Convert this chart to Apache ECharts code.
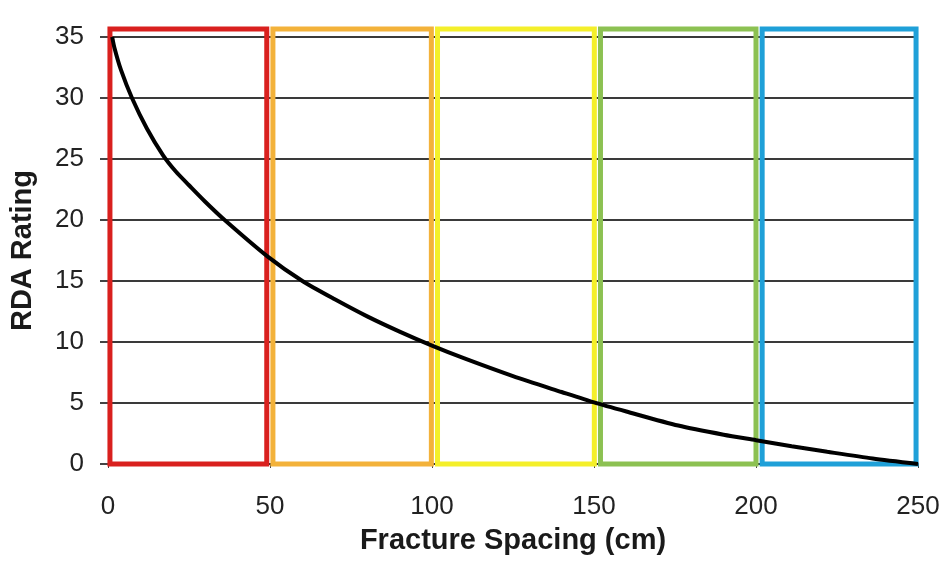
<!DOCTYPE html>
<html><head><meta charset="utf-8">
<script src="https://cdn.jsdelivr.net/npm/echarts@6/dist/echarts.min.js"></script>
<style>html,body{margin:0;padding:0;background:#fff}#c{width:947px;height:561px}</style>
</head><body><div id="c"></div>
<script>
// Curve: fracture spacing (cm) vs RDA rating
const spacing = [1.3,2,4,7.4,12,17,21,25,30,36,49.3,60,70,80,90,100,110,125,140,150,160,176,190,200,211,222,236,250];
const rating  = [35,34.1,32.3,30,27.5,25.3,23.95,22.85,21.5,20,17,15,13.5,12.1,10.85,9.7,8.65,7.2,5.9,5.05,4.3,3.15,2.4,1.95,1.45,1.0,0.45,0];
// Colored classification boxes
const boxStart = [0.6, 50.9, 101.7, 152, 201.9];
const boxEnd   = [49.0, 99.8, 150.1, 200, 249.4];
const boxTop   = [35.65, 35.65, 35.65, 35.65, 35.65];
const boxColors = ['#d9201e', '#f3b23a', '#f4ef2a', '#8cc152', '#1fa0d8'];
const yTicks = [0,5,10,15,20,25,30,35];
const xTicks = [0,50,100,150,200,250];

const chart = echarts.init(document.getElementById('c'));
const font = 'Liberation Sans, Arial, Helvetica, sans-serif';
chart.setOption({
  animation: false,
  grid: {left: 108, right: 29, top: 37, bottom: 97},
  xAxis: {
    type: 'value', min: 0, max: 250, interval: 50,
    name: 'Fracture Spacing (cm)', nameLocation: 'middle', nameGap: 62,
    nameTextStyle: {fontFamily: font, fontWeight: 'bold', fontSize: 29, color: '#1a1a1a'},
    axisLine: {show: true, lineStyle: {color: '#333', width: 2}},
    axisTick: {show: true, length: 4, lineStyle: {color: '#444'}},
    axisLabel: {fontFamily: font, fontSize: 26, color: '#222', margin: 30,
      formatter: v => xTicks.includes(v) ? String(v) : ''},
    splitLine: {show: false}
  },
  yAxis: {
    type: 'value', min: 0, max: 35, interval: 5,
    name: 'RDA Rating', nameLocation: 'middle', nameGap: 71, nameRotate: 90,
    nameTextStyle: {fontFamily: font, fontWeight: 'bold', fontSize: 29, color: '#1a1a1a'},
    axisLine: {show: false},
    axisTick: {show: true, length: 8, lineStyle: {color: '#444', width: 2}},
    axisLabel: {fontFamily: font, fontSize: 26, color: '#222', margin: 24,
      formatter: v => yTicks.includes(v) ? String(v) : ''},
    splitLine: {show: true, lineStyle: {color: '#3a3a3a', width: 2}}
  },
  series: [
    {
      type: 'custom', z: 2, clip: false,
      data: boxStart.map((s, i) => [s, boxEnd[i], boxTop[i], i]),
      renderItem: function (params, api) {
        const i = api.value(3);
        const p0 = api.coord([api.value(0), 0]);
        const p1 = api.coord([api.value(1), api.value(2)]);
        return {
          type: 'rect',
          shape: {x: p0[0], y: p1[1], width: p1[0] - p0[0], height: p0[1] - p1[1]},
          style: {fill: 'none', stroke: boxColors[i], lineWidth: 5}
        };
      }
    },
    {
      type: 'line', z: 5, showSymbol: false, smooth: 0.25,
      data: spacing.map((x, i) => [x, rating[i]]),
      lineStyle: {color: '#000', width: 4}
    }
  ]
});
</script></body></html>
